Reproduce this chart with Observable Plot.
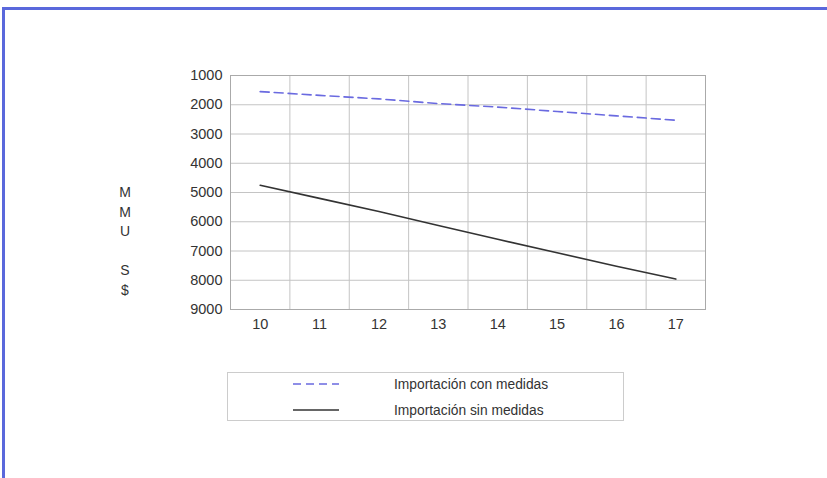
<!DOCTYPE html>
<html>
<head>
<meta charset="utf-8">
<script src="https://cdn.jsdelivr.net/npm/d3@7"></script>
<script src="https://cdn.jsdelivr.net/npm/@observablehq/plot@0.6"></script>
<style>
  html, body { margin: 0; padding: 0; background: #fff; }
  #wrap { position: relative; width: 827px; height: 478px; overflow: hidden; font-family: "Liberation Sans", Arial, sans-serif; color: #333; }
  #bt { position: absolute; left: 2px; top: 7px; width: 825px; height: 3px; background: #5a68dc; }
  #bl { position: absolute; left: 2px; top: 7px; width: 3px; height: 471px; background: #5a68dc; }
  #chart { position: absolute; left: 0; top: 0; }
  #ylab { position: absolute; left: 110px; top: 183px; width: 30px; text-align: center; font-size: 14px; line-height: 19.5px; color: #333; }
  #legend { position: absolute; left: 227px; top: 372px; width: 397px; height: 49px; border: 1px solid #ccc; box-sizing: border-box; font-size: 13.8px; color: #333; }
  .row { position: absolute; left: 0; height: 20px; width: 100%; }
  .row svg { position: absolute; left: 65px; top: 0; }
  .row span { position: absolute; left: 166px; top: 1px; }
</style>
</head>
<body>
<div id="wrap">
  <div id="bt"></div>
  <div id="bl"></div>
  <div id="chart"></div>
  <div id="ylab">M<br>M<br>U<br>&nbsp;<br>S<br>$</div>
  <div id="legend"></div>
</div>
<script>
// Data
const years = [10, 11, 12, 13, 14, 15, 16, 17];
const conMedidas = [1550, 1680, 1800, 1960, 2080, 2230, 2380, 2530];
const sinMedidas = [4750, 5200, 5650, 6130, 6600, 7060, 7520, 7960];
const yTicks = [1000, 2000, 3000, 4000, 5000, 6000, 7000, 8000, 9000];
const seriesNames = ["Importación con medidas", "Importación sin medidas"];

const rows = [];
years.forEach((yr, i) => {
  rows.push({year: yr, value: conMedidas[i], serie: seriesNames[0]});
  rows.push({year: yr, value: sinMedidas[i], serie: seriesNames[1]});
});
const xGrid = d3.range(years[0] - 0.5, years[years.length - 1] + 1, 1);

const chart = Plot.plot({
  width: 827,
  height: 340,
  marginLeft: 230,
  marginRight: 122,
  marginTop: 75,
  marginBottom: 31,
  style: {fontFamily: "Liberation Sans, Arial, sans-serif", fontSize: "14.5px", color: "#333", background: "transparent"},
  x: {type: "linear", domain: [years[0] - 0.5, years[years.length - 1] + 0.5], axis: null},
  y: {domain: [yTicks[0], yTicks[yTicks.length - 1]], reverse: true, axis: null},
  marks: [
    Plot.ruleY(yTicks, {stroke: "#c4c4c4", strokeWidth: 1}),
    Plot.ruleX(xGrid, {stroke: "#c4c4c4", strokeWidth: 1}),
    Plot.frame({stroke: "#aaa"}),
    Plot.axisY(yTicks, {tickSize: 0, tickPadding: 8, label: null, fontSize: 14.5, tickFormat: d => String(d)}),
    Plot.axisX(years, {tickSize: 0, tickPadding: 9, label: null, fontSize: 14.5, tickFormat: d => String(d)}),
    Plot.line(rows.filter(d => d.serie === seriesNames[0]), {x: "year", y: "value", stroke: "#6a6ae0", strokeWidth: 1.6, strokeDasharray: "9,5"}),
    Plot.line(rows.filter(d => d.serie === seriesNames[1]), {x: "year", y: "value", stroke: "#333", strokeWidth: 1.6})
  ]
});
document.getElementById("chart").appendChild(chart);

// Legend
const legend = document.getElementById("legend");
const styles = [
  {stroke: "#6a6ae0", dash: "8,5", top: 3},
  {stroke: "#333", dash: null, top: 29}
];
seriesNames.forEach((name, i) => {
  const row = document.createElement("div");
  row.className = "row";
  row.style.top = (styles[i].top) + "px";
  row.innerHTML = `<svg width="48" height="20"><line x1="0" x2="46" y1="8" y2="8" stroke="${styles[i].stroke}" stroke-width="1.6" ${styles[i].dash ? `stroke-dasharray="${styles[i].dash}"` : ""}/></svg><span>${name}</span>`;
  legend.appendChild(row);
});
</script>
</body>
</html>
